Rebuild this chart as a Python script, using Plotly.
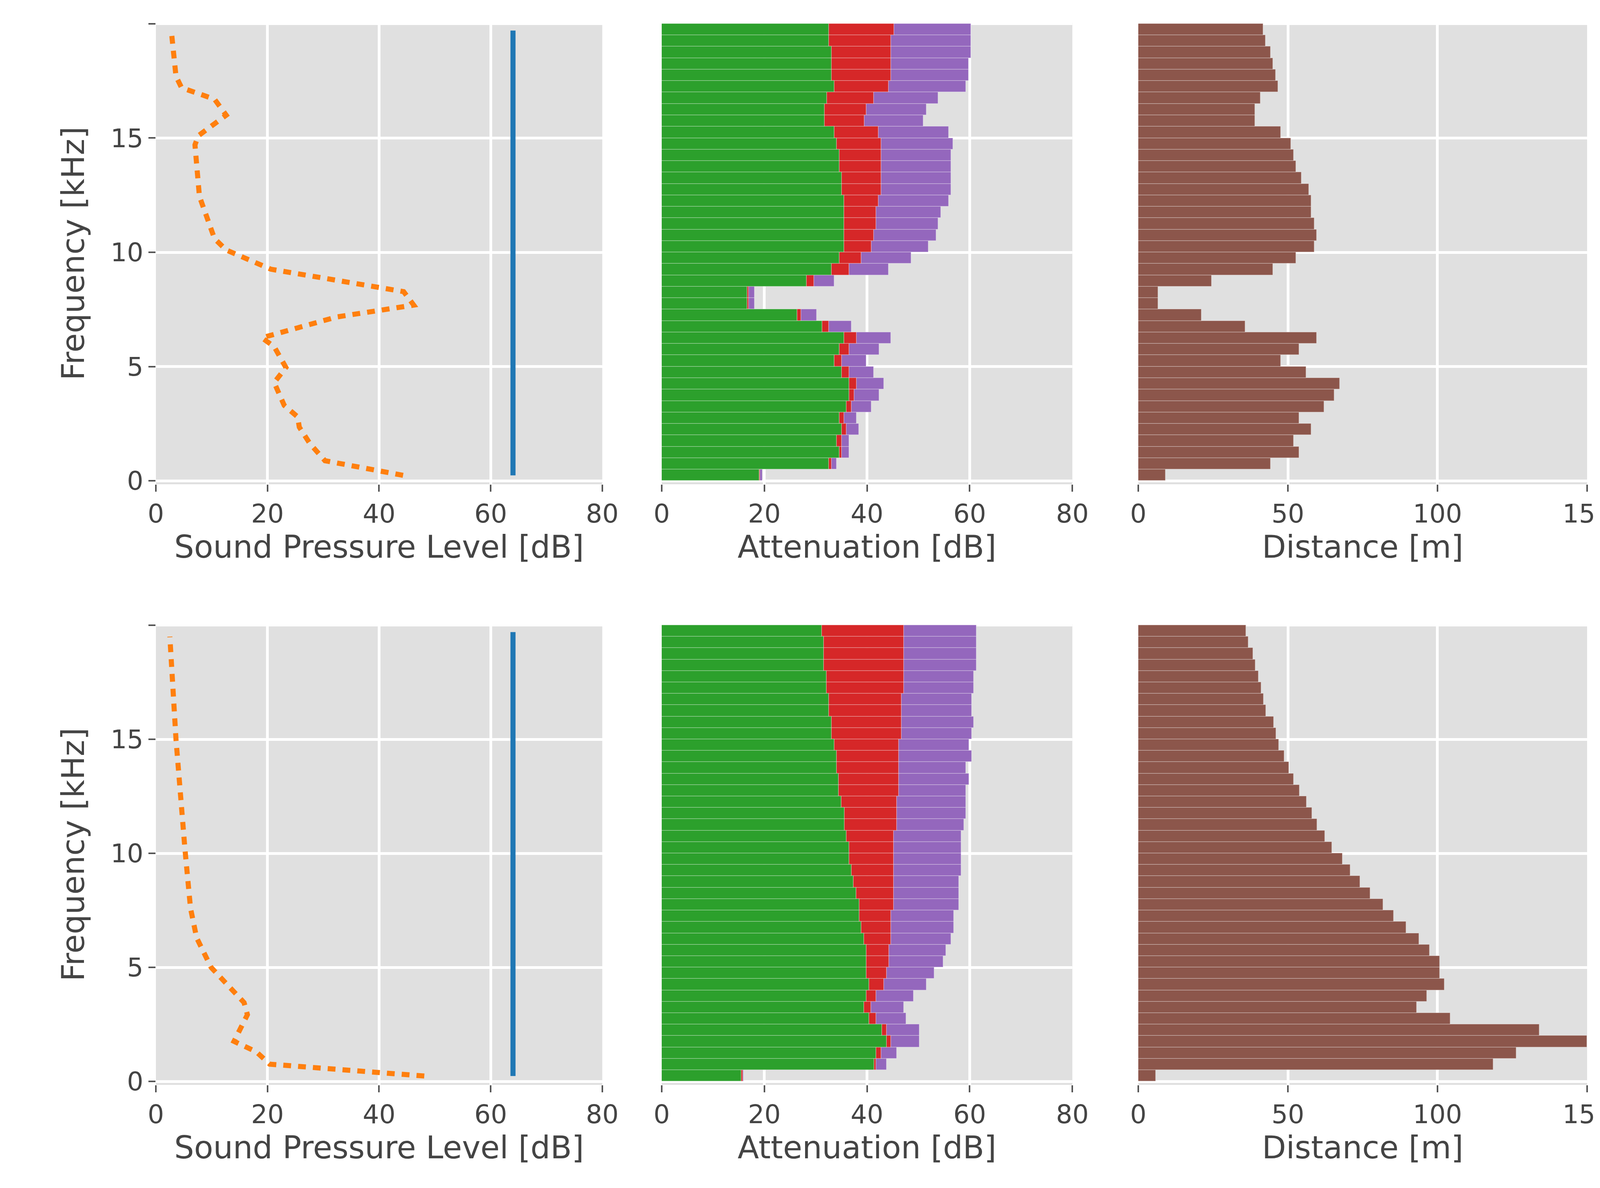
import plotly.graph_objects as go

freq = [0.25, 0.75, 1.25, 1.75, 2.25, 2.75, 3.25, 3.75, 4.25, 4.75,
        5.25, 5.75, 6.25, 6.75, 7.25, 7.75, 8.25, 8.75, 9.25, 9.75,
        10.25, 10.75, 11.25, 11.75, 12.25, 12.75, 13.25, 13.75, 14.25, 14.75,
        15.25, 15.75, 16.25, 16.75, 17.25, 17.75, 18.25, 18.75, 19.25, 19.75]

# (a) cumulative attenuation ends [dB] and detection distance [m]
geo_a = [19.0, 32.6, 34.6, 34.1, 35.1, 34.6, 36.0, 36.5, 36.5, 35.1, 33.6, 34.6, 35.5, 31.3, 26.4, 16.7, 16.7, 28.2, 33.1, 34.6,
         35.5, 35.5, 35.5, 35.5, 35.5, 35.1, 35.1, 34.6, 34.6, 34.1, 33.6, 31.7, 31.7, 32.2, 33.6, 33.1, 33.1, 33.1, 32.6, 32.6]
atm_a = [19.2, 33.1, 35.1, 35.1, 36.0, 35.5, 37.0, 37.5, 38.0, 36.5, 35.1, 36.5, 38.0, 32.6, 27.2, 17.0, 17.0, 29.7, 36.5, 38.9,
         40.9, 41.3, 41.8, 41.8, 42.2, 42.8, 42.8, 42.8, 42.8, 42.8, 42.2, 39.5, 39.9, 41.3, 44.2, 44.7, 44.7, 44.7, 44.7, 45.3]
hab_a = [19.6, 34.1, 36.5, 36.5, 38.4, 38.0, 40.9, 42.4, 43.3, 41.3, 39.9, 42.4, 44.7, 37.0, 30.2, 18.1, 18.1, 33.6, 44.2, 48.6,
         52.0, 53.5, 53.9, 54.4, 55.9, 56.4, 56.4, 56.4, 56.4, 56.8, 55.9, 51.0, 51.6, 53.9, 59.3, 59.8, 59.8, 60.3, 60.3, 60.3]
dist_a = [9.2, 44.2, 53.8, 51.9, 57.8, 53.8, 62.1, 65.6, 67.4, 56.2, 47.7, 53.8, 59.7, 35.8, 21.2, 6.7, 6.7, 24.6, 45.0, 52.7,
          58.9, 59.7, 58.9, 57.8, 57.8, 57.0, 54.6, 52.7, 51.9, 51.1, 47.7, 39.1, 39.1, 40.9, 46.8, 46.0, 45.0, 44.2, 42.6, 41.8]
amb_a_f = [0.24, 0.88, 1.63, 2.35, 2.8, 3.3, 4.3, 4.96, 5.87, 6.26, 7.17, 7.69, 8.28, 9.26, 10.1, 10.6, 12.45, 14.0, 14.7, 15.1,
           16.0, 16.7, 17.2, 17.7, 19.6]
amb_a = [44.3, 30.3, 27.6, 25.7, 25.4, 23.0, 21.2, 23.3, 21.2, 19.0, 32.4, 46.2, 44.4, 20.6, 12.6, 10.5, 7.8, 7.3, 7.0, 7.6,
         12.6, 10.5, 4.6, 3.6, 2.8]

# (b)
geo_b = [15.5, 41.4, 41.8, 43.8, 42.9, 40.4, 39.4, 39.9, 40.4, 39.9, 39.9, 39.9, 39.4, 38.9, 38.5, 38.5, 37.9, 37.4, 37.0, 36.5,
         36.5, 36.0, 35.6, 35.6, 35.0, 34.5, 34.5, 34.1, 34.1, 33.6, 33.1, 33.1, 32.6, 32.6, 32.1, 32.1, 31.6, 31.6, 31.6, 31.2]
atm_b = [15.8, 41.8, 42.8, 44.7, 43.8, 41.8, 40.8, 41.8, 43.3, 43.8, 44.3, 44.3, 44.7, 44.7, 44.7, 45.2, 45.2, 45.2, 45.2, 45.2,
         45.2, 45.2, 45.8, 45.8, 45.8, 46.2, 46.2, 46.2, 46.2, 46.2, 46.7, 46.7, 46.7, 46.7, 47.2, 47.2, 47.2, 47.2, 47.2, 47.2]
hab_b = [16.0, 43.8, 45.8, 50.2, 50.2, 47.6, 47.2, 49.1, 51.6, 53.1, 54.9, 55.4, 56.4, 56.9, 56.9, 57.9, 57.9, 57.9, 58.4, 58.4,
         58.4, 58.4, 58.9, 59.3, 59.3, 59.3, 59.9, 59.3, 60.4, 59.9, 60.4, 60.8, 60.4, 60.4, 60.8, 60.8, 61.3, 61.3, 61.3, 61.3]
dist_b = [5.9, 118.7, 126.4, 150.0, 134.1, 104.3, 93.1, 96.5, 102.4, 100.8, 100.8, 97.4, 93.9, 89.6, 85.4, 81.9, 77.6, 74.2, 70.9, 68.3,
          64.8, 62.4, 59.8, 58.1, 56.3, 53.9, 52.0, 50.4, 48.8, 47.0, 46.1, 45.3, 42.7, 41.9, 41.1, 40.2, 39.2, 38.4, 36.8, 36.0]
amb_b_f = [0.24, 0.76, 1.3, 1.76, 2.93, 3.46, 5.0, 6.3, 7.6, 10.2, 15.0, 19.5]
amb_b = [48.1, 20.4, 18.0, 14.0, 16.4, 15.8, 9.9, 7.3, 6.2, 5.2, 3.6, 2.5]

white_f = [0.24, 19.7]
white_db = [64.0, 64.0]

GREEN, RED, PURPLE, BROWN = "#2ca02c", "#d62728", "#9467bd", "#8c564b"
ORANGE, BLUE = "#ff7f0e", "#1f77b4"
TXT = "#444444"
FONT = "DejaVu Sans"

fig = go.Figure()

xdom = [[0.0753, 0.2953], [0.3246, 0.527], [0.5595, 0.7807]]
ydom = [[0.595, 0.9836], [0.0894, 0.4773]]

rows = [
    (geo_a, atm_a, hab_a, dist_a, amb_a_f, amb_a, "legend"),
    (geo_b, atm_b, hab_b, dist_b, amb_b_f, amb_b, "legend2"),
]

line_col = "rgba(255,255,255,0.35)"
for r, (geo, atm, hab, dist, af, amb, lg) in enumerate(rows):
    ax = [f"{3 * r + c + 1}" for c in range(3)]
    xa = ["x" if a == "1" else "x" + a for a in ax]
    ya = ["y" if a == "1" else "y" + a for a in ax]
    fig.add_trace(go.Bar(x=dist, y=freq, orientation="h", width=0.5, xaxis=xa[2], yaxis=ya[2],
                         marker=dict(color=BROWN, line=dict(width=1.5, color=line_col)),
                         name="Detection distance", legend=lg, legendrank=1))
    fig.add_trace(go.Bar(x=[h - a for h, a in zip(hab, atm)], base=atm, y=freq, orientation="h", width=0.5,
                         xaxis=xa[1], yaxis=ya[1], marker=dict(color=PURPLE, line=dict(width=1.5, color=line_col)),
                         name="<i>A<sub>hab</sub></i>", legend=lg, legendrank=2))
    fig.add_trace(go.Bar(x=[a - g for a, g in zip(atm, geo)], base=geo, y=freq, orientation="h", width=0.5,
                         xaxis=xa[1], yaxis=ya[1], marker=dict(color=RED, line=dict(width=1.5, color=line_col)),
                         name="<i>A<sub>atm</sub></i>", legend=lg, legendrank=3))
    fig.add_trace(go.Bar(x=geo, y=freq, orientation="h", width=0.5,
                         xaxis=xa[1], yaxis=ya[1], marker=dict(color=GREEN, line=dict(width=1.5, color=line_col)),
                         name="<i>A<sub>geo</sub></i>", legend=lg, legendrank=4))
    fig.add_trace(go.Scatter(x=amb, y=af, mode="lines", xaxis=xa[0], yaxis=ya[0],
                             line=dict(color=ORANGE, width=13, dash="20px,18px"),
                             name="ambient sound", legend=lg, legendrank=5))
    fig.add_trace(go.Scatter(x=white_db, y=white_f, mode="lines", xaxis=xa[0], yaxis=ya[0],
                             line=dict(color=BLUE, width=13),
                             name="white noise", legend=lg, legendrank=6))

    specs = [("Sound Pressure Level [dB]", [0, 80], 20),
             ("Attenuation [dB]", [0, 80], 20),
             ("Distance [m]", [0, 150], 50)]
    for c in range(3):
        title, rng, dt = specs[c]
        key = ax[c]
        xname = "xaxis" if key == "1" else "xaxis" + key
        yname = "yaxis" if key == "1" else "yaxis" + key
        fig.layout[xname] = dict(
            domain=xdom[c], anchor=ya[c], range=rng, dtick=dt, automargin=False,
            showgrid=True, gridcolor="white", gridwidth=7, zeroline=False,
            ticks="outside", ticklen=18, tickwidth=4, tickcolor="#555555",
            tickfont=dict(size=66, color=TXT, family=FONT),
            title=dict(text=title, font=dict(size=80, color=TXT, family=FONT), standoff=10),
        )
        fig.layout[yname] = dict(
            domain=ydom[r], anchor=xa[c], range=[-0.15, 20.05], automargin=False,
            tickvals=[0, 5, 10, 15, 20], ticktext=["0", "5", "10", "15", ""],
            showticklabels=(c == 0), ticks="outside" if c == 0 else "",
            ticklen=18, tickwidth=4, tickcolor="#555555",
            showgrid=True, gridcolor="white", gridwidth=7, zeroline=False,
            tickfont=dict(size=66, color=TXT, family=FONT),
            title=dict(text="Frequency [kHz]" if c == 0 else "",
                       font=dict(size=80, color=TXT, family=FONT), standoff=40),
        )

legend_style = dict(xanchor="right", yanchor="top", bgcolor="rgba(0,0,0,0)",
                    font=dict(size=74, color=TXT, family=FONT), tracegroupgap=0,
                    traceorder="normal")
fig.update_layout(
    width=5194, height=3042, autosize=False, paper_bgcolor="white", plot_bgcolor="#e0e0e0",
    margin=dict(l=0, r=0, t=0, b=0, autoexpand=False), barmode="overlay", bargap=0,
    legend=dict(x=0.99, y=0.995, **legend_style),
    legend2=dict(x=0.99, y=0.485, **legend_style),
    annotations=[
        dict(text="<b>(a)</b>", x=0.998, y=0.525, xref="paper", yref="paper",
             xanchor="right", yanchor="middle", showarrow=False,
             font=dict(size=104, color="black", family="Liberation Sans")),
        dict(text="<b>(b)</b>", x=0.998, y=0.02, xref="paper", yref="paper",
             xanchor="right", yanchor="middle", showarrow=False,
             font=dict(size=104, color="black", family="Liberation Sans")),
    ],
)
for t in fig.data:
    t.update(showlegend=True)

fig.write_html("out.html")
